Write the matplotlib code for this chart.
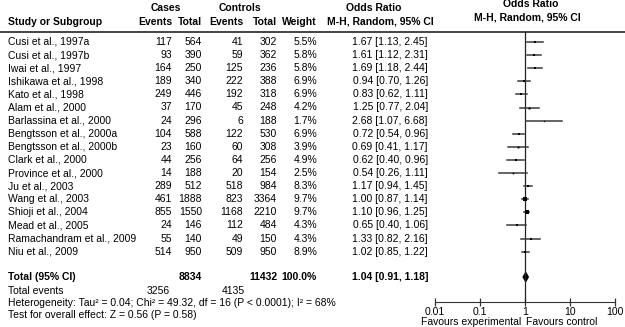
import matplotlib.pyplot as plt
from matplotlib.patches import Polygon

plt.rcParams['font.family'] = ['Liberation Sans', 'DejaVu Sans']

# data
studies = ['Cusi et al., 1997a', 'Cusi et al., 1997b', 'Iwai et al., 1997',
           'Ishikawa et al., 1998', 'Kato et al., 1998', 'Alam et al., 2000',
           'Barlassina et al., 2000', 'Bengtsson et al., 2000a',
           'Bengtsson et al., 2000b', 'Clark et al., 2000', 'Province et al., 2000',
           'Ju et al., 2003', 'Wang et al., 2003', 'Shioji et al., 2004',
           'Mead et al., 2005', 'Ramachandram et al., 2009', 'Niu et al., 2009']
cases_events = [117, 93, 164, 189, 249, 37, 24, 104, 23, 44, 14, 289, 461, 855, 24, 55, 514]
cases_total = [564, 390, 250, 340, 446, 170, 296, 588, 160, 256, 188, 512, 1888, 1550, 146, 140, 950]
ctrl_events = [41, 59, 125, 222, 192, 45, 6, 122, 60, 64, 20, 518, 823, 1168, 112, 49, 509]
ctrl_total = [302, 362, 236, 388, 318, 248, 188, 530, 308, 256, 154, 984, 3364, 2210, 484, 150, 950]
weights = [5.5, 5.8, 5.8, 6.9, 6.9, 4.2, 1.7, 6.9, 3.9, 4.9, 2.5, 8.3, 9.7, 9.7, 4.3, 4.3, 8.9]
odds = [1.67, 1.61, 1.69, 0.94, 0.83, 1.25, 2.68, 0.72, 0.69, 0.62, 0.54, 1.17, 1.00, 1.10, 0.65, 1.33, 1.02]
ci_low = [1.13, 1.12, 1.18, 0.70, 0.62, 0.77, 1.07, 0.54, 0.41, 0.40, 0.26, 0.94, 0.87, 0.96, 0.40, 0.82, 0.85]
ci_high = [2.45, 2.31, 2.44, 1.26, 1.11, 2.04, 6.68, 0.96, 1.17, 0.96, 1.11, 1.45, 1.14, 1.25, 1.06, 2.16, 1.22]

total_cases, total_ctrl = 8834, 11432
events_cases, events_ctrl = 3256, 4135
pooled, pooled_lo, pooled_hi = 1.04, 0.91, 1.18
tick_vals = [0.01, 0.1, 1, 10, 100]
tick_labels = ['0.01', '0.1', '1', '10', '100']

FS = 7.5
W, H = 625, 327
fig = plt.figure(figsize=(W / 100, H / 100), dpi=100)

# text layer in pixel coordinates
tx = fig.add_axes([0, 0, 1, 1])
tx.set_xlim(0, W)
tx.set_ylim(H, 0)
tx.axis('off')

bold = dict(fontsize=FS, fontweight='bold', va='center')
tx.text(166, 8, 'Cases', ha='center', **bold)
tx.text(240, 8, 'Controls', ha='center', **bold)
tx.text(374, 8, 'Odds Ratio', ha='center', **bold)
tx.text(380, 22, 'M-H, Random, 95% CI', ha='center', **bold)
tx.text(531, 4, 'Odds Ratio', ha='center', **bold)
tx.text(527, 17, 'M-H, Random, 95% CI', ha='center', **bold)
tx.text(8, 22, 'Study or Subgroup', ha='left', **bold)
for xr, lab in [(172, 'Events'), (202, 'Total'), (243, 'Events'), (277, 'Total'), (317, 'Weight')]:
    tx.text(xr, 22, lab, ha='right', **bold)

tx.plot([0, W], [32, 32], color='#444444', lw=1.4)

row_y = [42 + 13.1 * i for i in range(len(studies))]
norm = dict(fontsize=FS, va='center')
for i, y in enumerate(row_y):
    tx.text(8, y, studies[i], ha='left', **norm)
    tx.text(172, y, str(cases_events[i]), ha='right', **norm)
    tx.text(202, y, str(cases_total[i]), ha='right', **norm)
    tx.text(243, y, str(ctrl_events[i]), ha='right', **norm)
    tx.text(277, y, str(ctrl_total[i]), ha='right', **norm)
    tx.text(317, y, f'{weights[i]:.1f}%', ha='right', **norm)
    tx.text(428, y, f'{odds[i]:.2f} [{ci_low[i]:.2f}, {ci_high[i]:.2f}]', ha='right', **norm)

ty = 277
tx.text(8, ty, 'Total (95% CI)', ha='left', **bold)
tx.text(202, ty, str(total_cases), ha='right', **bold)
tx.text(277, ty, str(total_ctrl), ha='right', **bold)
tx.text(317, ty, '100.0%', ha='right', **bold)
tx.text(428, ty, f'{pooled:.2f} [{pooled_lo:.2f}, {pooled_hi:.2f}]', ha='right', **bold)
tx.text(8, 291, 'Total events', ha='left', **norm)
tx.text(170, 291, str(events_cases), ha='right', **norm)
tx.text(245, 291, str(events_ctrl), ha='right', **norm)
tx.text(8, 303.5, 'Heterogeneity: Tau\u00b2 = 0.04; Chi\u00b2 = 49.32, df = 16 (P < 0.0001); I\u00b2 = 68%',
        ha='left', **norm)
tx.text(8, 315.5, 'Test for overall effect: Z = 0.56 (P = 0.58)', ha='left', **norm)

# forest panel, log x, y in pixels
ax = fig.add_axes([435 / W, 0, 180 / W, 1])
ax.patch.set_alpha(0)
ax.set_xscale('log')
ax.set_xlim(0.01, 100)
ax.set_ylim(H, 0)
for s in ['top', 'left', 'right']:
    ax.spines[s].set_visible(False)
ax.spines['bottom'].set_position(('data', 302))
ax.spines['bottom'].set_color('#333333')
ax.set_yticks([])
ax.set_xticks(tick_vals)
ax.set_xticklabels(tick_labels)
ax.minorticks_off()
ax.tick_params(axis='x', direction='inout', length=6, width=0.9, color='#333333',
               labelsize=FS, pad=0.3)

ax.plot([1, 1], [32, 302], color='#222222', lw=0.9, clip_on=False)
for i, y in enumerate(row_y):
    ax.plot([ci_low[i], ci_high[i]], [y, y], color='#3a3a3a', lw=1.1, clip_on=False)
    ax.plot(odds[i], y, marker='s', color='black', ms=weights[i] ** 0.5 * 0.7,
            mew=0, clip_on=False)

ax.add_patch(Polygon([(pooled_lo, ty), (pooled, ty - 4.5), (pooled_hi, ty), (pooled, ty + 4.5)],
                     closed=True, color='black', clip_on=False))

tx.text(471, 322, 'Favours experimental', ha='center', **norm)
tx.text(562, 322, 'Favours control', ha='center', **norm)

plt.savefig('out.png', dpi=100)
